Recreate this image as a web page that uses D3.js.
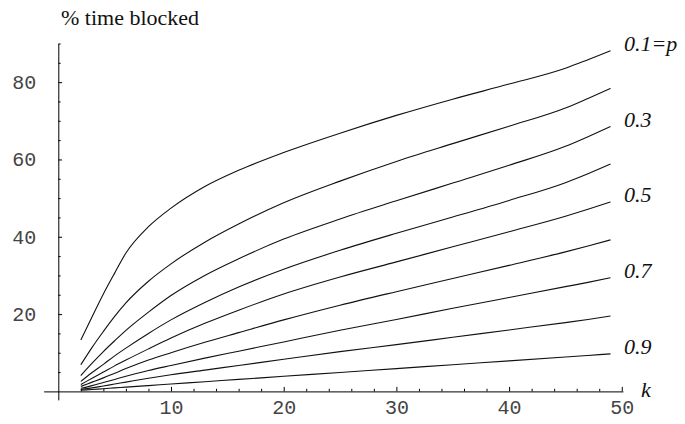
<!DOCTYPE html>
<html>
<head>
<meta charset="utf-8">
<script src="https://cdn.jsdelivr.net/npm/d3@7"></script>
<style>
body { margin: 0; background: #fff; }
svg { display: block; }
.serif { font-family: "Liberation Serif", "Times New Roman", "DejaVu Serif", serif; }
.mono { font-family: "Liberation Mono", "DejaVu Sans Mono", monospace; }
</style>
</head>
<body>
<script>
var kValues = [2, 3, 4, 5, 6, 8, 10, 13, 16, 20, 25, 30, 35, 40, 45, 47, 49];

// % time blocked, one array per p
var blocked01 = [13.3, 19.3, 25.2, 30.6, 35.8, 42.6, 47.4, 53.0, 57.2, 61.8, 66.8, 71.4, 75.6, 79.5, 83.6, 85.8, 88.1];
var blocked02 = [6.9, 11.4, 15.5, 19.4, 22.9, 28.5, 33.0, 38.6, 43.3, 48.8, 54.4, 59.5, 64.1, 68.6, 73.3, 75.8, 78.4];
var blocked03 = [4.1, 7.3, 10.3, 13.1, 15.8, 20.5, 24.8, 30.0, 34.3, 39.4, 44.6, 49.3, 53.9, 58.5, 63.4, 65.9, 68.5];
var blocked04 = [2.6, 4.9, 7.0, 9.2, 11.2, 15.0, 18.5, 23.0, 27.0, 31.6, 36.5, 40.9, 45.1, 49.4, 54.0, 56.3, 58.8];
var blocked05 = [1.8, 3.4, 5.0, 6.6, 8.1, 11.0, 13.8, 17.6, 21.0, 25.2, 29.6, 33.5, 37.4, 41.3, 45.3, 47.1, 49.0];
var blocked06 = [1.3, 2.4, 3.5, 4.7, 5.9, 8.1, 10.0, 12.7, 15.2, 18.5, 22.3, 25.8, 29.2, 32.6, 36.1, 37.6, 39.2];
var blocked07 = [0.8, 1.5, 2.3, 3.1, 3.9, 5.4, 6.7, 8.6, 10.4, 12.8, 15.8, 18.6, 21.5, 24.3, 27.1, 28.2, 29.4];
var blocked08 = [0.5, 0.9, 1.4, 1.9, 2.4, 3.4, 4.3, 5.5, 6.7, 8.3, 10.3, 12.1, 14.0, 15.9, 17.8, 18.6, 19.5];
var blocked09 = [0.3, 0.5, 0.7, 0.9, 1.1, 1.5, 1.9, 2.5, 3.1, 3.9, 4.9, 5.9, 6.9, 7.9, 8.9, 9.3, 9.7];

var series = [blocked01, blocked02, blocked03, blocked04, blocked05, blocked06, blocked07, blocked08, blocked09];
// curve labels (index of the curve they belong to)
var curveLabels = [{i: 0, text: "0.1=p"}, {i: 2, text: "0.3"}, {i: 4, text: "0.5"}, {i: 6, text: "0.7"}, {i: 8, text: "0.9"}];

var xTicks = [10, 20, 30, 40, 50];
var xMinor = [2, 4, 6, 8, 12, 14, 16, 18, 22, 24, 26, 28, 32, 34, 36, 38, 42, 44, 46, 48];
var yTicks = [20, 40, 60, 80];
var yMinor = [5, 10, 15, 25, 30, 35, 45, 50, 55, 65, 70, 75, 85, 90];

var W = 685, H = 424;
var svg = d3.select("body").append("svg")
	.attr("width", W)
	.attr("height", H);

var x = d3.scaleLinear().domain([-1.3, 50.1]).range([43.65, 622.9]);
var y = d3.scaleLinear().domain([-2.2, 90]).range([399.9, 43.5]);

/* axes */
svg.append("g")
	.attr("transform", "translate(0," + y(0) + ")")
	.call(d3.axisBottom(x).tickValues(xTicks).tickSizeInner(-4.5).tickSizeOuter(0).tickPadding(8.5));
svg.append("g")
	.attr("transform", "translate(0," + y(0) + ")")
	.call(d3.axisBottom(x).tickValues(xMinor).tickSizeInner(-2.6).tickSizeOuter(0).tickFormat(""))
	.select(".domain").remove();

svg.append("g")
	.attr("transform", "translate(" + x(0) + ",0)")
	.call(d3.axisLeft(y).tickValues(yTicks).tickSizeInner(-3.7).tickSizeOuter(0).tickPadding(22));
svg.append("g")
	.attr("transform", "translate(" + x(0) + ",0)")
	.call(d3.axisLeft(y).tickValues(yMinor).tickSizeInner(-2.3).tickSizeOuter(0).tickFormat(""))
	.select(".domain").remove();

svg.selectAll(".domain").attr("stroke", "#000").attr("stroke-width", 1);
svg.selectAll(".tick line").attr("stroke", "#000").attr("stroke-width", 1);
svg.selectAll(".tick text")
	.attr("class", "mono")
	.attr("font-family", null)
	.attr("font-size", 20)
	.attr("fill", "#444");

/* curves */
var line = d3.line()
	.x(function(d, i){ return x(kValues[i]); })
	.y(function(d){ return y(d); })
	.curve(d3.curveMonotoneX);

svg.append("g").selectAll("path")
	.data(series)
	.enter().append("path")
	.attr("d", function(d){ return line(d); })
	.attr("fill", "none")
	.attr("stroke", "#111")
	.attr("stroke-width", 1.1);

/* labels */
svg.append("g").selectAll("text")
	.data(curveLabels)
	.enter().append("text")
	.attr("class", "serif")
	.attr("x", x(50.2))
	.attr("y", function(d){ return y(series[d.i][series[d.i].length-1]) + 0.5; })
	.attr("font-style", "italic")
	.attr("font-size", 22)
	.attr("fill", "#111")
	.text(function(d){ return d.text; });

svg.append("text")
	.attr("class", "serif")
	.attr("x", 641)
	.attr("y", y(0) + 6)
	.attr("font-style", "italic")
	.attr("font-size", 22)
	.attr("fill", "#111")
	.text("k");

svg.append("text")
	.attr("class", "serif")
	.attr("x", 61)
	.attr("y", 25)
	.attr("font-size", 22)
	.attr("fill", "#111")
	.text("% time blocked");
</script>
</body>
</html>
